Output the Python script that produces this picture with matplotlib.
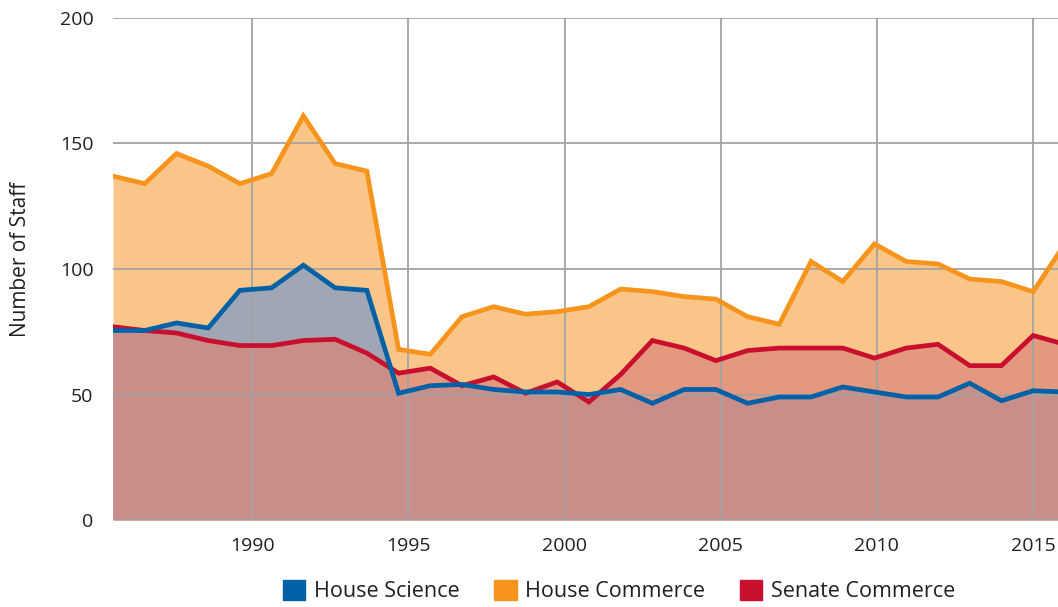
import numpy as np
import matplotlib
matplotlib.use("Agg")
import matplotlib.pyplot as plt
from matplotlib.patches import Patch

plt.rcParams["font.family"] = ["Open Sans", "DejaVu Sans"]

# data years (one value per year)
years = list(range(1986, 2017))
house_commerce = [137, 134, 146, 141, 134, 138, 161, 142, 139, 68, 66, 81, 85, 82, 83, 85,
                  92, 91, 89, 88, 81, 78, 103, 95, 110, 103, 102, 96, 95, 91, 110]
senate_commerce = [77, 75.5, 74.5, 71.5, 69.5, 69.5, 71.5, 72, 66.5, 58.5, 60.5, 53.5, 57, 50.5, 55, 47,
                   58, 71.5, 68.5, 63.5, 67.5, 68.5, 68.5, 68.5, 64.5, 68.5, 70, 61.5, 61.5, 73.5, 70]
house_science = [75.5, 75.5, 78.5, 76.5, 91.5, 92.5, 101.5, 92.5, 91.5, 50.5, 53.5, 54, 52, 51, 51, 50,
                 52, 46.5, 52, 52, 46.5, 49, 49, 53, 51, 49, 49, 54.5, 47.5, 51.5, 51]

xticks = [1990, 1995, 2000, 2005, 2010, 2015]
yticks = [0, 50, 100, 150, 200]

# points sit slightly off the year grid in the original
x = 1985.54 + (np.array(years) - 1986) * 1.016

c_orange = "#F7941D"
c_blue = "#0061A6"
c_red = "#C8102E"
text_col = "#231F20"

fig = plt.figure(figsize=(10.58, 6.07), dpi=100)
ax = fig.add_axes([113 / 1058, 1 - 520 / 607, 1 - 113 / 1058, (520 - 18) / 607])

ax.fill_between(x, house_commerce, color="#FAC589", lw=0, zorder=1)
ax.fill_between(x, house_science, color="#A1A6B4", lw=0, zorder=1.1)
fr = ax.fill_between(x, senate_commerce, color="#E4987D", lw=0, zorder=1.2)
fb = ax.fill_between(x, house_science, color="#C98D8A", lw=0, zorder=1.3)
fb.set_clip_path(fr.get_paths()[0], ax.transData)

ax.plot(x, house_commerce, color=c_orange, lw=3.4, zorder=3, solid_joinstyle="miter")
ax.plot(x, senate_commerce, color=c_red, lw=3.4, zorder=3.1, solid_joinstyle="miter")
ax.plot(x, house_science, color=c_blue, lw=3.4, zorder=3.2, solid_joinstyle="miter")

ax.set_xlim(1985.54, 2015.8)
ax.set_ylim(0, 200)
ax.set_xticks(xticks)
ax.set_yticks(yticks)
ax.grid(True, color="#A3A3A3", lw=1.3, zorder=2)
ax.set_axisbelow(False)
for s in ax.spines.values():
    s.set_visible(False)
ax.tick_params(length=0, labelsize=14, colors=text_col)
ax.tick_params(axis="x", pad=12)
ax.tick_params(axis="y", pad=14)
ax.set_ylabel("Number of Staff", fontsize=15, color=text_col, va="center")
ax.yaxis.set_label_coords(-0.0984, 0.519)

handles = [Patch(color=c_blue, label="House Science"),
           Patch(color=c_orange, label="House Commerce"),
           Patch(color=c_red, label="Senate Commerce")]
fig.legend(handles=handles, loc="center", bbox_to_anchor=(0.585, 0.026), ncol=3, frameon=False,
           fontsize=15.5, handlelength=1.05, handleheight=1.05, handletextpad=0.4, columnspacing=1.6,
           labelcolor=text_col, borderpad=0)

fig.savefig("out.png", dpi=100)
